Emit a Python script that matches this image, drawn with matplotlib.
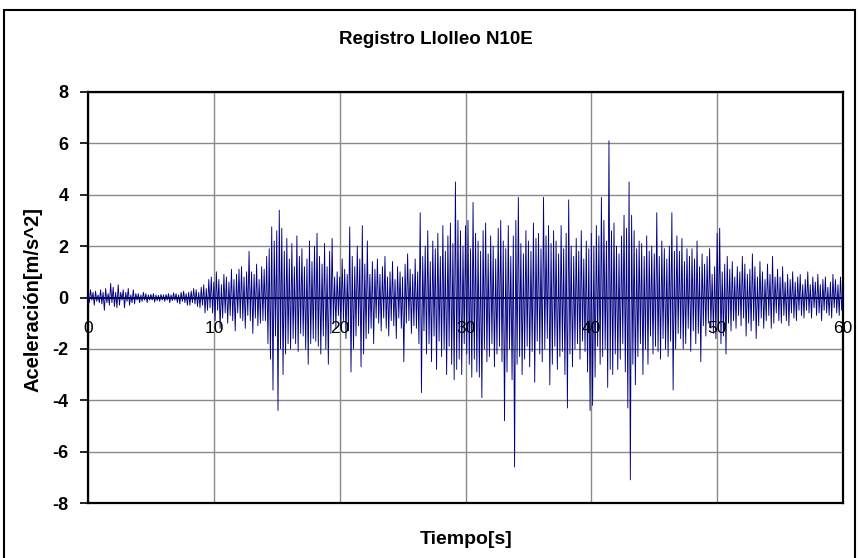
import numpy as np
import matplotlib
matplotlib.use("Agg")
import matplotlib.pyplot as plt
from matplotlib.patches import Rectangle

# ---- data (acceleration peaks, 0.1 s apart) ----
dt = 0.1
acc_rows = [
    [0.1, -0.2, 0.3, -0.1, 0.2, -0.3, 0.25, -0.15, 0.1, -0.2],
    [0.3, -0.25, 0.2, -0.5, 0.35, -0.2, 0.15, -0.3, 0.55, -0.2],
    [0.4, -0.35, 0.2, -0.4, 0.5, -0.3, 0.2, -0.1, 0.3, -0.4],
    [0.2, -0.15, 0.35, -0.3, 0.1, -0.2, 0.3, -0.25, 0.15, -0.1],
    [0.15, -0.2, 0.1, -0.15, 0.2, -0.1, 0.15, -0.2, 0.1, -0.1],
    [0.12, -0.1, 0.15, -0.18, 0.1, -0.12, 0.08, -0.15, 0.12, -0.1],
    [0.1, -0.15, 0.12, -0.1, 0.15, -0.2, 0.1, -0.12, 0.18, -0.1],
    [0.15, -0.2, 0.1, -0.25, 0.2, -0.15, 0.25, -0.2, 0.15, -0.3],
    [0.2, -0.3, 0.25, -0.2, 0.35, -0.25, 0.3, -0.35, 0.2, -0.4],
    [0.4, -0.3, 0.5, -0.6, 0.35, -0.5, 0.7, -0.4, 0.8, -0.6],
    [0.6, -0.9, 1.0, -0.5, 0.7, -1.2, 0.5, -0.8, 0.9, -0.6],
    [0.8, -1.0, 0.6, -0.7, 1.1, -0.9, 0.7, -1.3, 0.9, -0.6],
    [1.1, -0.8, 1.2, -0.9, 0.8, -1.2, 1.0, -0.7, 1.8, -0.9],
    [1.0, -1.4, 0.9, -0.8, 1.3, -1.1, 0.7, -1.0, 1.2, -0.9],
    [1.1, -0.9, 1.6, -1.8, 1.9, -2.4, 2.75, -3.6, 2.2, -1.5],
    [2.6, -4.4, 3.4, -2.0, 2.7, -3.0, 1.8, -2.2, 2.3, -1.8],
    [1.5, -2.0, 2.1, -1.6, 1.2, -1.8, 2.4, -2.1, 1.6, -1.4],
    [1.9, -1.5, 1.2, -2.0, 1.5, -2.6, 2.2, -1.8, 1.4, -1.6],
    [2.0, -1.7, 2.5, -1.9, 1.6, -2.2, 1.3, -1.5, 2.1, -2.0],
    [1.2, -2.6, 1.8, -1.4, 2.3, -1.0, 0.8, -1.2, 1.0, -0.7],
    [0.8, -1.2, 1.5, -0.9, 1.1, -1.6, 0.9, -1.3, 2.75, -2.9],
    [1.6, -2.0, 1.2, -1.5, 2.0, -1.1, 1.5, -2.7, 2.8, -2.2],
    [1.3, -1.6, 2.2, -1.4, 0.9, -1.2, 1.4, -1.8, 1.1, -0.8],
    [1.5, -1.0, 0.9, -1.3, 1.2, -0.8, 1.6, -1.2, 0.8, -1.5],
    [1.0, -0.9, 1.4, -1.1, 0.7, -1.6, 1.2, -0.8, 1.0, -1.2],
    [0.8, -2.5, 1.3, -1.0, 1.7, -0.9, 1.1, -1.4, 0.9, -1.1],
    [1.5, -1.2, 1.0, -1.8, 3.3, -3.7, 1.6, -1.3, 2.0, -2.2],
    [2.6, -1.8, 1.4, -2.5, 2.2, -1.5, 1.9, -2.8, 2.5, -1.7],
    [1.6, -2.3, 2.8, -2.0, 1.8, -3.0, 2.4, -1.9, 2.9, -2.6],
    [2.1, -3.2, 4.5, -2.8, 3.0, -2.4, 2.6, -3.0, 2.0, -1.8],
    [2.8, -2.2, 3.0, -2.6, 1.9, -3.1, 3.7, -2.4, 2.5, -2.9],
    [2.2, -3.1, 1.8, -3.9, 2.6, -2.0, 2.9, -2.5, 1.7, -2.3],
    [2.4, -1.8, 2.0, -2.7, 1.5, -2.2, 2.7, -1.9, 3.0, -2.5],
    [2.2, -4.8, 1.9, -2.9, 2.8, -2.0, 1.6, -3.2, 2.4, -6.6],
    [3.0, -2.6, 3.9, -2.3, 2.1, -3.0, 1.7, -2.4, 2.6, -1.9],
    [2.2, -2.7, 1.8, -2.1, 2.9, -3.3, 2.3, -1.7, 2.5, -2.2],
    [1.9, -2.5, 3.9, -2.0, 2.4, -1.6, 2.8, -3.4, 2.1, -2.6],
    [2.6, -1.9, 2.2, -2.8, 1.7, -2.3, 2.8, -2.1, 1.9, -3.0],
    [2.5, -4.3, 3.8, -2.2, 2.0, -2.7, 1.6, -2.0, 2.3, -1.8],
    [1.8, -2.4, 2.6, -1.7, 1.5, -2.1, 2.2, -2.9, 1.9, -4.4],
    [2.5, -4.2, 2.0, -3.1, 2.8, -1.9, 2.4, -2.6, 3.9, -2.3],
    [3.0, -2.0, 2.2, -3.5, 6.1, -2.8, 2.6, -3.0, 2.9, -2.2],
    [2.0, -2.8, 1.7, -2.4, 2.4, -1.8, 3.2, -2.9, 2.7, -4.3],
    [4.5, -7.1, 3.2, -2.6, 2.6, -3.4, 1.9, -2.3, 2.2, -1.8],
    [2.1, -3.0, 1.6, -2.0, 2.4, -2.6, 1.8, -1.5, 2.0, -2.2],
    [1.7, -1.9, 3.3, -2.1, 1.6, -2.4, 2.2, -1.6, 1.9, -2.0],
    [1.5, -2.3, 2.0, -1.7, 3.3, -3.6, 1.8, -2.0, 2.4, -1.4],
    [1.8, -1.6, 2.3, -2.0, 1.4, -1.8, 1.9, -1.2, 1.6, -2.1],
    [1.9, -1.3, 1.5, -1.8, 2.2, -1.4, 1.2, -2.5, 1.7, -1.1],
    [1.3, -1.5, 1.6, -1.0, 1.9, -1.2, 0.9, -1.4, 1.2, -1.6],
    [2.5, -1.3, 2.7, -1.8, 1.0, -1.5, 1.3, -2.2, 1.6, -1.0],
    [1.1, -1.3, 1.4, -0.9, 0.8, -1.2, 1.2, -0.7, 1.0, -1.1],
    [1.6, -0.8, 1.3, -1.5, 0.9, -1.0, 1.1, -1.3, 1.7, -0.9],
    [1.2, -1.6, 0.8, -1.1, 1.4, -0.8, 1.0, -1.2, 0.7, -0.9],
    [1.3, -0.7, 0.9, -1.2, 1.6, -1.0, 0.8, -0.6, 1.1, -0.9],
    [0.8, -1.0, 1.2, -0.7, 0.6, -0.9, 0.9, -1.1, 0.7, -0.6],
    [1.0, -0.8, 0.6, -0.9, 0.8, -0.5, 0.9, -0.7, 0.5, -0.8],
    [0.7, -0.5, 1.0, -0.6, 0.5, -0.8, 0.8, -0.4, 0.6, -0.7],
    [0.9, -0.6, 0.5, -0.9, 0.7, -0.5, 0.8, -0.6, 0.4, -0.7],
    [0.6, -0.8, 0.9, -0.4, 0.7, -0.6, 0.5, -0.7, 0.8, -0.5],
]
acc_end = [0.3]
x_ticks = [0, 10, 20, 30, 40, 50, 60]
y_ticks = [-8, -6, -4, -2, 0, 2, 4, 6, 8]
title = "Registro Llolleo N10E"
xlabel = "Tiempo[s]"
ylabel = "Aceleración[m/s^2]"

acc = np.array([v for row in acc_rows for v in row] + acc_end)
t = np.arange(len(acc)) * dt

plt.rcParams['font.family'] = ['Liberation Sans', 'DejaVu Sans']
plt.rcParams['axes.unicode_minus'] = False

fig = plt.figure(figsize=(8.58, 5.58), dpi=100)
fig.patch.set_facecolor('white')

# outer chart frame
fig.patches.append(Rectangle((4 / 858, -0.05), 851 / 858, 0.05 + (558 - 10) / 558,
                             transform=fig.transFigure, fill=False,
                             edgecolor='black', linewidth=1.5))

ax = fig.add_axes([88 / 858, 55 / 558, 755 / 858, 411 / 558])
ax.set_xlim(0, 60)
ax.set_ylim(-8, 8)

ax.set_xticks(x_ticks)
ax.set_yticks(y_ticks)
ax.grid(True, color='#8a8a8a', linewidth=1.0)
ax.set_axisbelow(True)

ax.plot(t, acc, color='#000080', linewidth=0.65, zorder=3)
ax.axhline(0, color='black', linewidth=1.4, zorder=2)

for s in ax.spines.values():
    s.set_linewidth(1.6)
    s.set_color('black')

ax.tick_params(axis='x', bottom=False, labelbottom=False)
ax.tick_params(axis='y', direction='out', length=6, width=1.2, pad=8,
               labelsize=13)
for lab in ax.get_yticklabels():
    lab.set_fontweight('bold')

for xv in x_ticks:
    ax.annotate(str(xv), xy=(xv, 0), xytext=(0, -17), textcoords='offset points',
                ha='center', va='top', fontsize=12.5, zorder=4)

fig.text(436 / 858, 1 - 39 / 558, title, ha='center', va='center',
         fontsize=13.5, fontweight='bold')
fig.text(466 / 858, 1 - 540 / 558, xlabel, ha='center', va='center',
         fontsize=14, fontweight='bold')
fig.text(33 / 858, 1 - 300 / 558, ylabel, ha='center', va='center',
         rotation=90, fontsize=14.5, fontweight='bold')

fig.savefig('out.png', dpi=100, facecolor='white')
